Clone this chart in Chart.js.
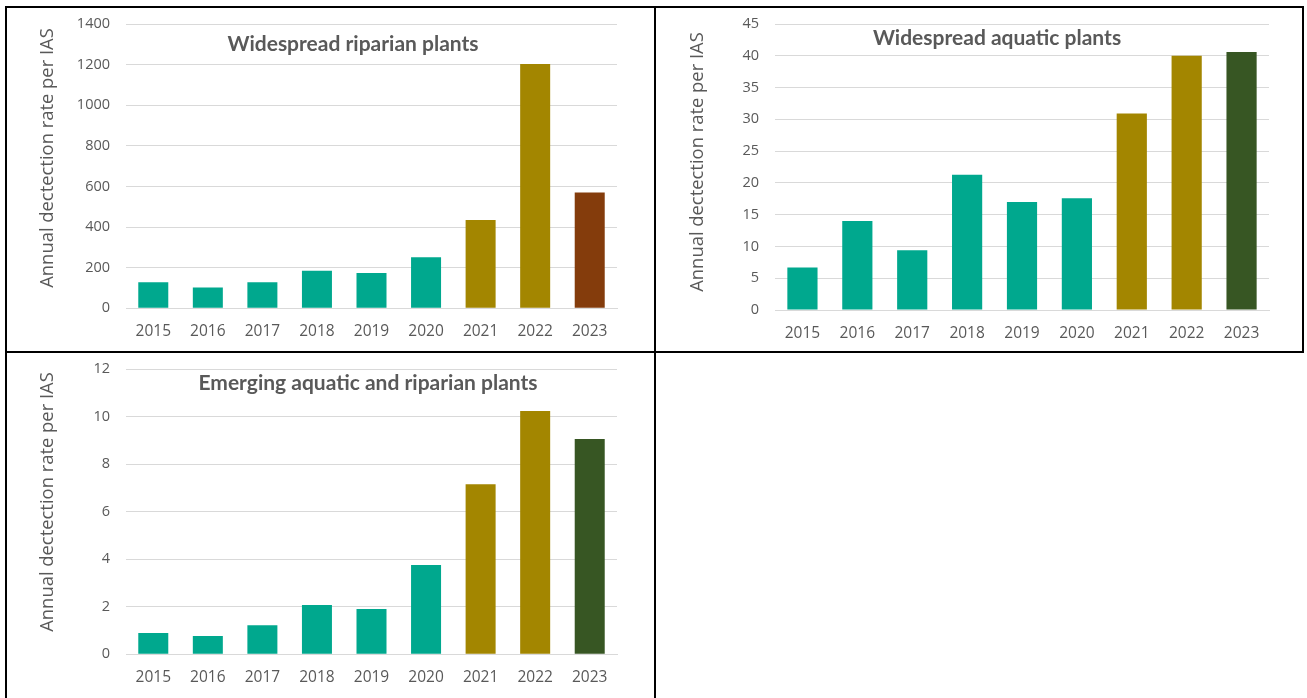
<!DOCTYPE html>
<html>
<head>
<meta charset="utf-8">
<script src="https://cdn.jsdelivr.net/npm/chart.js@4"></script>
<style>
  body { margin: 0; background: #fff; width: 1307px; height: 698px; overflow: hidden; position: relative; }
  .cell { position: absolute; }
  .line { position: absolute; background: #000; }
</style>
</head>
<body>
<!-- table borders -->
<div class="line" style="left:5px;top:6px;width:1299px;height:2px"></div>
<div class="line" style="left:5px;top:351px;width:1299px;height:2px"></div>
<div class="line" style="left:5px;top:6px;width:2px;height:692px"></div>
<div class="line" style="left:654px;top:6px;width:2px;height:692px"></div>
<div class="line" style="left:1302px;top:6px;width:2px;height:347px"></div>

<div class="cell" style="left:8px;top:9px;width:645px;height:342px"><canvas id="chart1"></canvas></div>
<div class="cell" style="left:657px;top:9px;width:644px;height:342px"><canvas id="chart2"></canvas></div>
<div class="cell" style="left:8px;top:354px;width:645px;height:344px"><canvas id="chart3"></canvas></div>

<script>
// data
const years = ['2015', '2016', '2017', '2018', '2019', '2020', '2021', '2022', '2023'];
const riparian = [128, 103, 128, 185, 174, 251, 435, 1203, 570];
const aquatic = [6.7, 14.0, 9.4, 21.3, 17.0, 17.6, 30.9, 40.0, 40.6];
const emerging = [0.90, 0.77, 1.22, 2.07, 1.91, 3.76, 7.15, 10.23, 9.06];

// colours
const teal = '#00A88E';
const olive = '#A38600';
const brown = '#843C0C';
const darkGreen = '#375623';
const textGrey = '#595959';

function barColours(last) {
    return years.map((y, i) => i < 6 ? teal : (i < 8 ? olive : last));
}

// title + axis title drawn inside the chart
const panelText = {
    id: 'panelText',
    afterDraw(chart, args, opts) {
        const ctx = chart.ctx;
        ctx.save();
        ctx.fillStyle = textGrey;
        ctx.textAlign = 'center';
        ctx.textBaseline = 'middle';
        ctx.font = "bold 21px Lato, sans-serif";
        ctx.fillText(opts.title, opts.tx, opts.ty);
        ctx.translate(opts.ax, opts.ay);
        ctx.rotate(-Math.PI / 2);
        ctx.font = "18.4px 'Open Sans', sans-serif";
        ctx.fillText('Annual dectection rate per IAS', 0, 0);
        ctx.restore();
    }
};

// no extra room around the axes, the layout padding places the plot
function noPadding(scale) {
    scale.paddingTop = 0;
    scale.paddingBottom = 0;
    scale.paddingLeft = 0;
    scale.paddingRight = 0;
}

function makeChart(id, values, last, yMax, yStep, pad, xh, text) {
    const ctx = document.getElementById(id).getContext('2d');
    new Chart(ctx, {
        type: 'bar',
        data: {
            labels: years,
            datasets: [{
                data: values,
                backgroundColor: barColours(last),
                borderWidth: 0,
                barPercentage: 0.55,
                categoryPercentage: 1
            }]
        },
        options: {
            responsive: true,
            maintainAspectRatio: false,
            animation: false,
            layout: { padding: pad },
            plugins: {
                legend: { display: false },
                tooltip: { enabled: false },
                panelText: text
            },
            scales: {
                x: {
                    grid: { display: false, drawTicks: false },
                    border: { display: true, color: '#D9D9D9', width: 1 },
                    ticks: {
                        color: textGrey,
                        padding: 14,
                        font: { family: "'Open Sans', sans-serif", size: 15.5 }
                    },
                    afterFit: scale => { scale.height = xh; noPadding(scale); }
                },
                y: {
                    min: 0,
                    max: yMax,
                    grid: { color: '#D9D9D9', drawTicks: false },
                    border: { display: false },
                    ticks: {
                        stepSize: yStep,
                        color: textGrey,
                        padding: 16,
                        font: { family: "'Open Sans', sans-serif", size: 14.5 },
                        callback: v => String(v)
                    },
                    afterFit: scale => { scale.width = 118 - pad.left; noPadding(scale); }
                }
            }
        },
        plugins: [panelText]
    });
}

makeChart('chart1', riparian, brown, 1400, 200,
    { left: 60, top: 15, right: 36, bottom: 0 }, 42.7,
    { title: 'Widespread riparian plants', tx: 345, ty: 35, ax: 40, ay: 149 });
makeChart('chart2', aquatic, darkGreen, 45, 5,
    { left: 60, top: 15, right: 32, bottom: 0 }, 41,
    { title: 'Widespread aquatic plants', tx: 340, ty: 29, ax: 41, ay: 153 });
makeChart('chart3', emerging, darkGreen, 12, 2,
    { left: 60, top: 15, right: 36, bottom: 0 }, 43.7,
    { title: 'Emerging aquatic and riparian plants', tx: 360, ty: 29, ax: 40, ay: 148 });
</script>
</body>
</html>
